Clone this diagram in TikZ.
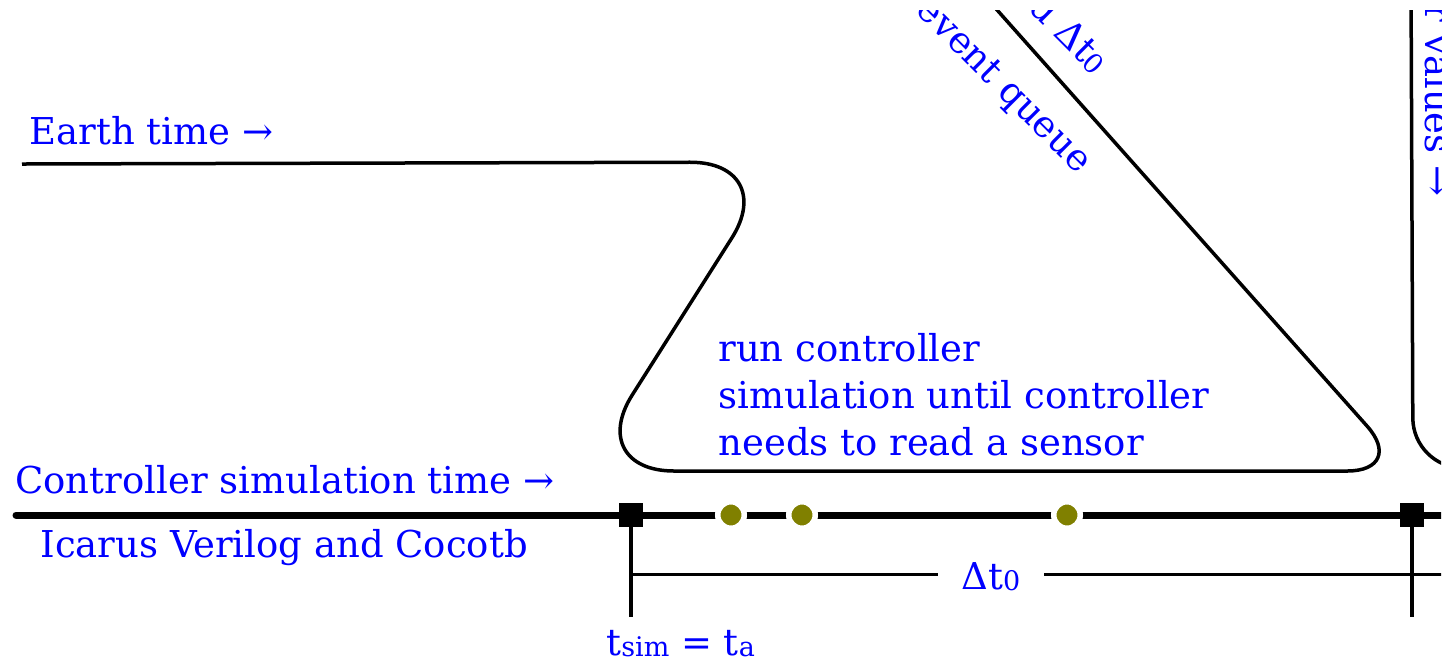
\documentclass[tikz,border=0pt]{standalone}
\usepackage{fontspec}
\setmainfont{DejaVu Serif}
\usetikzlibrary{positioning,calc}
\definecolor{labelblue}{RGB}{0,0,255}
\definecolor{eventolive}{RGB}{128,128,0}
\newcommand{\smallsub}[1]{\raisebox{-0.6pt}{\fontsize{13.5}{13.5}\selectfont #1}}

\begin{document}
\begin{tikzpicture}[
 x=0.5pt, y=-0.5pt,
 txt/.style={text=labelblue, font=\fontsize{18.5}{23.5}\selectfont, inner sep=0pt},
 earthline/.style={line width=1.75pt, rounded corners=45pt},
 simline/.style={line width=3.5pt, line cap=round},
 tick/.style={line width=2pt},
 dim/.style={line width=1.5pt},
 sqmark/.style={rectangle, fill=black, minimum size=12pt, inner sep=0pt},
 evdot/.style={circle, fill=eventolive, draw=white, line width=2.75pt, minimum size=13.25pt, inner sep=0pt}
]
\useasboundingbox (0,0) rectangle (1452,661);
\clip (0,10) rectangle (1441,661);

% Points of the time lines
\coordinate (earthstart) at (22,164);
\coordinate (bendtop) at (780,162);
\coordinate (bendlow) at (584,471);
\coordinate (tip) at (1407,471);
\coordinate (diagtop) at (950,-43);
\coordinate (backtop) at (1411,-20);
\coordinate (backcorner) at (1413,468);
\coordinate (backend) at (1480,468);
\coordinate (simstart) at (16,515);
\coordinate (simend) at (1480,515);
\coordinate (tickbot) at (0,617);
\coordinate (dimend) at (1480,574);

% Earth time
\draw[earthline] (earthstart) -- (bendtop) -- (bendlow) [rounded corners=30pt] -- (tip) -- (diagtop);
\draw[earthline, rounded corners=25pt] (backtop) -- (backcorner) -- (backend);

% Controller simulation time
\draw[simline] (simstart) -- (simend);
\node[sqmark] (ta) at (631,515) {};
\node[sqmark] (tb) at (1412,515) {};
\draw[tick] (ta.center) -- (ta |- tickbot);
\draw[tick] (tb.center) -- (tb |- tickbot);
\draw[dim] (ta |- dimend) -- (dimend);
\node[sqmark] at (ta) {};
\node[sqmark] at (tb) {};
\node[evdot] (ev1) at (731,515) {};
\node[evdot] (ev2) at (802,515) {};
\node[evdot] (ev3) at (1067,515) {};

% Labels
\node[txt, anchor=base west] (earth) at (29,144) {Earth time →};
\node[txt, anchor=base west] (ctrl) at (15,493) {Controller simulation time →};
\node[txt, anchor=base west] (icarus) at (40,557) {Icarus Verilog and Cocotb};
\node[txt, anchor=base west, align=left] (runsim) at (718,455) {run controller\\simulation until controller\\needs to read a sensor};
\node[txt, anchor=base, fill=white, inner xsep=12pt, inner ysep=2pt] (dt) at (991,589) {Δt\smallsub{0}};
\node[txt, anchor=base west] (tsim) at (606,655) {t\smallsub{sim} = t\smallsub{a}};
\node[txt, anchor=base east, rotate=-45] (queue) at (1078,175) {event queue};
\node[txt, anchor=base east, rotate=-45] (advance) at (1094,76) {d Δt\smallsub{0}};
\node[txt, anchor=base east, rotate=-90] (values) at (1425,197) {r values →};

\end{tikzpicture}
\end{document}
